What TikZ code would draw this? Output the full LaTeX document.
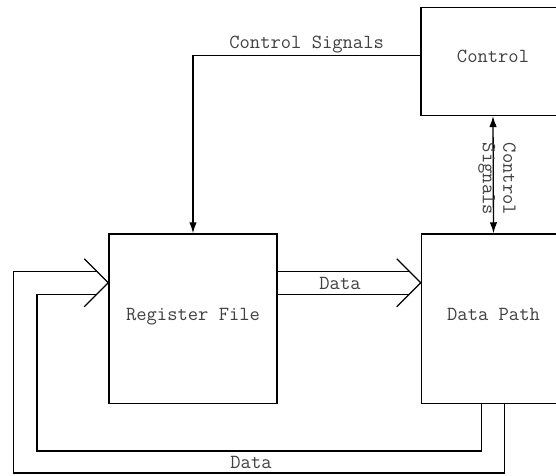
\documentclass[tikz,border=0pt]{standalone}
\usepackage{fontspec}
\usetikzlibrary{arrows.meta,calc}
\begin{document}
\begin{tikzpicture}[x=1pt,y=-1pt,
  txt/.style={font=\ttfamily\fontsize{20}{20.5}\selectfont, text=black!75},
  block/.style={txt, draw=black, line width=1.5pt, rectangle, inner sep=0pt,
    text height=10pt, text depth=7pt},
  lbl/.style={txt, inner sep=1pt},
  wire/.style={line width=1.3pt, draw=black},
  sig/.style={wire, -{Latex[length=11pt,width=7.5pt]}},
  dsig/.style={wire, {Latex[length=11pt,width=7.5pt]}-{Latex[length=11pt,width=7.5pt]}}]
  \useasboundingbox (0,0) rectangle (556,475);
  \clip (0,0) rectangle (556,475);

  % functional blocks
  \node[block, minimum width=144pt, minimum height=108pt] (ctrl) at (493,61.3) {Control};
  \node[block, minimum width=168pt, minimum height=169.5pt] (reg) at (193,318.75) {Register File};
  \node[block, minimum width=144pt, minimum height=169.5pt] (dp) at (493.5,318.75) {Data Path};

  % control signals to the register file
  \draw[sig] ([yshift=6pt]ctrl.west) -| node[lbl, pos=0.25, above=0.5pt] {Control Signals} (reg.north);

  % control signals between control and data path
  \draw[dsig] (ctrl.south) -- (dp.north);
  \node[lbl, rotate=-90, align=center] (sigtext) at (497,179) {Control\\Signals};

  % data bus: register file to data path
  \coordinate (dtip) at ($(dp.north west)+(0,49.5)$);
  \draw[wire] ($(reg.north east)+(0,38)$) -- ($(dtip)+(-11.5,-11.5)$);
  \draw[wire] ($(reg.north east)+(0,61)$) -- ($(dtip)+(-11.5,11.5)$);
  \draw[wire] ($(dtip)+(-24,-24)$) -- (dtip) -- ($(dtip)+(-24,24)$);
  \node[lbl] (dlab) at (340,283.5) {Data};

  % data bus: data path back to the register file
  \coordinate (rtip) at ($(reg.north west)+(0,49.5)$);
  \draw[wire] ($(dp.south west)+(84,0)$) |- (13.5,473) |- ($(rtip)+(-11.5,-11.5)$);
  \draw[wire] ($(dp.south west)+(60.5,0)$) |- (37,451) |- ($(rtip)+(-11.5,11.5)$);
  \draw[wire] ($(rtip)+(-24,-24)$) -- (rtip) -- ($(rtip)+(-24,24)$);
  \node[lbl] (blab) at (251,462.5) {Data};
\end{tikzpicture}
\end{document}
